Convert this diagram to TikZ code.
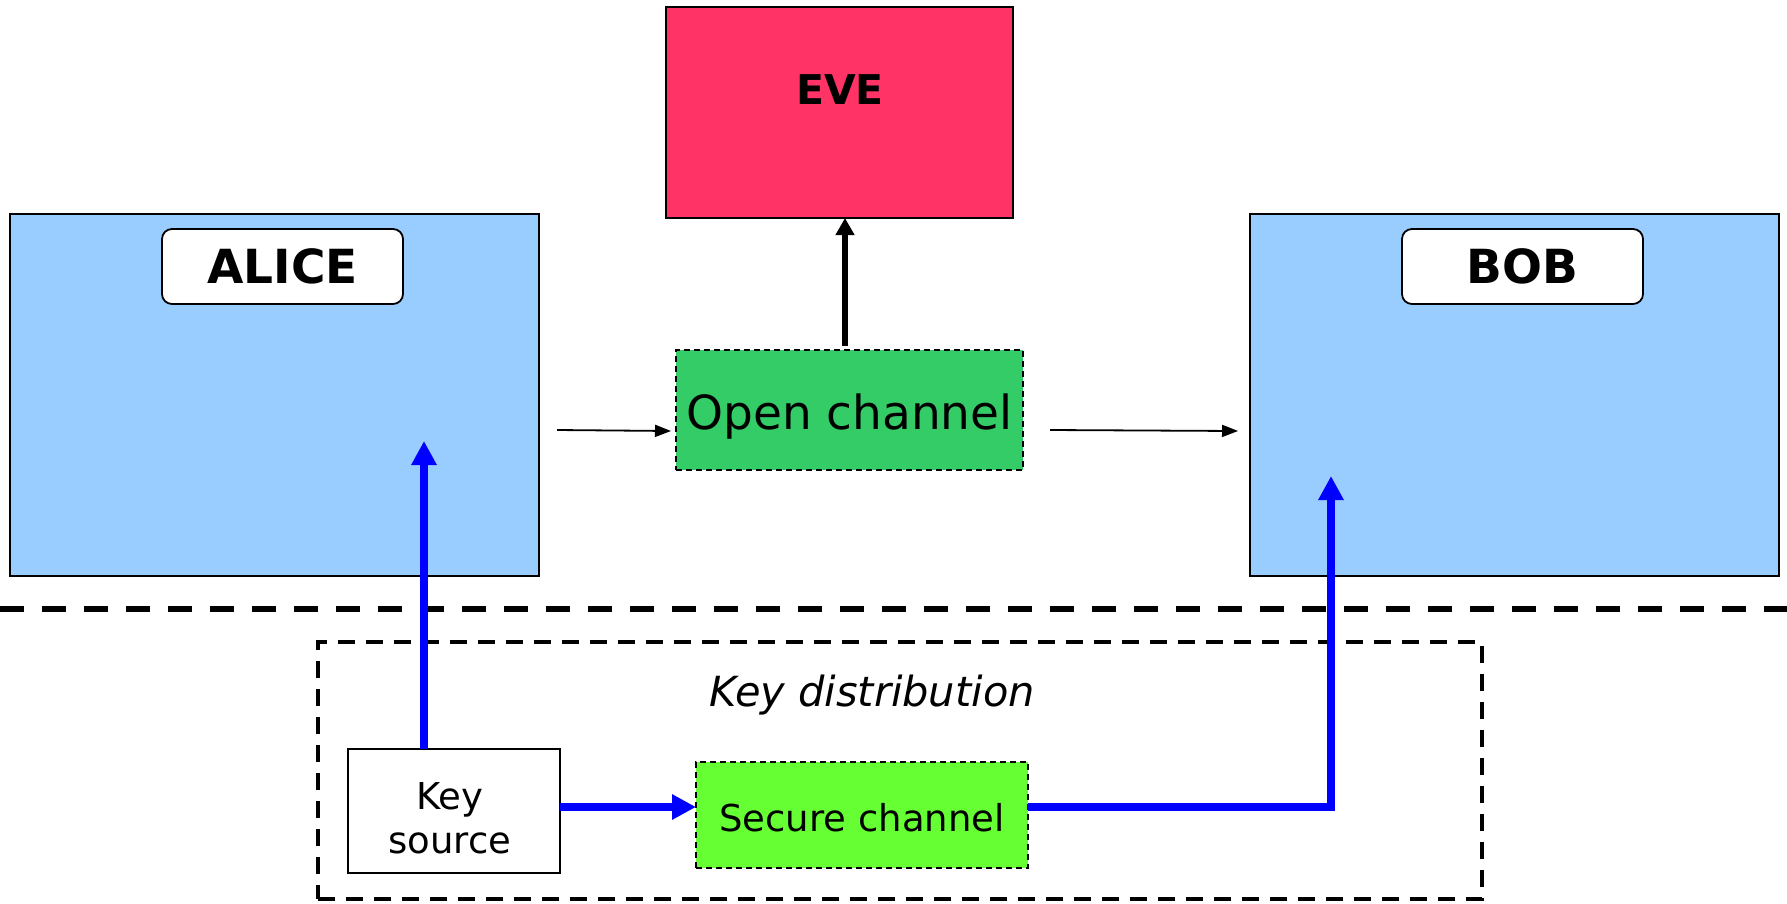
\documentclass[tikz,border=0pt]{standalone}
\usepackage{fontspec}
\setmainfont{DejaVu Sans}
\usetikzlibrary{arrows.meta}
\definecolor{partyblue}{HTML}{99CCFF}
\definecolor{evered}{HTML}{FF3366}
\definecolor{opengreen}{HTML}{33CC66}
\definecolor{securegreen}{HTML}{66FF33}
\definecolor{keyblue}{HTML}{0000FF}
\begin{document}
\begin{tikzpicture}[x=1pt,y=-1pt,
  box/.style={draw=black,line width=1.8pt,inner sep=0pt,outer sep=0pt},
  party/.style={box,fill=partyblue,minimum width=529pt,minimum height=362pt},
  namebox/.style={box,fill=white,rounded corners=10pt,minimum width=241pt,minimum height=75pt,font=\fontsize{47}{54}\selectfont\bfseries},
  chanbox/.style={box,dash pattern=on 6pt off 4pt},
  bluearrow/.style={draw=keyblue,line width=7.5pt,-{Triangle[width=24pt,length=24pt]}},
  thinarrow/.style={draw=black,line width=1.8pt,-{Triangle[width=12pt,length=16pt]}},
  lbl/.style={inner sep=0pt}]
\useasboundingbox (0,0) rectangle (1787,903);

% parties
\node[party] (alice) at (274.5,395) {};
\node[namebox] (alicename) at (282.5,266.5) {ALICE};
\node[party] (bob) at (1514.5,395) {};
\node[namebox] (bobname) at (1522.5,266.5) {BOB};

% Eve
\node[box,fill=evered,minimum width=347pt,minimum height=211pt] (eve) at (839.5,112.5) {};
\node[lbl,font=\fontsize{41}{48}\selectfont\bfseries] (evetext) at (840,90) {EVE};

% open channel
\node[chanbox,fill=opengreen,minimum width=347pt,minimum height=120pt] (oc) at (849.5,410) {};
\node[lbl,font=\fontsize{47}{54}\selectfont] (octext) at (849.5,417) {Open channel};

% separator
\coordinate (sepL) at (0,609);
\coordinate (sepR) at (1787,609);
\draw[line width=5.5pt,dash pattern=on 24pt off 18pt] (sepL) -- (sepR);

% key distribution
\node[draw=black,line width=3.5pt,dash pattern=on 17pt off 11pt,inner sep=0pt,minimum width=1164pt,minimum height=257pt] (kd) at (900,770.5) {};
\node[lbl,font=\fontsize{41.5}{48}\selectfont\itshape] (kdtext) at (872,695) {Key distribution};

\node[box,fill=white,minimum width=212pt,minimum height=124pt] (ks) at (454,811) {};
\node[lbl,align=center,font=\fontsize{37}{44}\selectfont] (kstext) at (450,818) {Key\\source};
\node[chanbox,fill=securegreen,minimum width=332pt,minimum height=106pt] (sc) at (862,815) {};
\node[lbl,font=\fontsize{37}{44}\selectfont] (sctext) at (862,818) {Secure channel};

% arrow coordinates
\coordinate (aliceTip) at (424,441);
\coordinate (bobTip) at (1331,476);
\coordinate (keyY) at (0,807);
\coordinate (a1s) at (557,430);
\coordinate (a1e) at (671,431);
\coordinate (a2s) at (1050,430);
\coordinate (a2e) at (1238,431);
\coordinate (eveS) at (845,346);

% blue arrows
\draw[bluearrow] (ks.north -| aliceTip) -- (aliceTip);
\draw[bluearrow] (ks.east |- keyY) -- (sc.west |- keyY);
\draw[bluearrow] (sc.east |- keyY) -| (bobTip);

% black arrows
\draw[thinarrow] (a1s) -- (a1e);
\draw[thinarrow] (a2s) -- (a2e);
\draw[draw=black,line width=6pt,-{Triangle[width=18pt,length=17pt]}] (eveS) -- (eve.south -| eveS);
\end{tikzpicture}
\end{document}
